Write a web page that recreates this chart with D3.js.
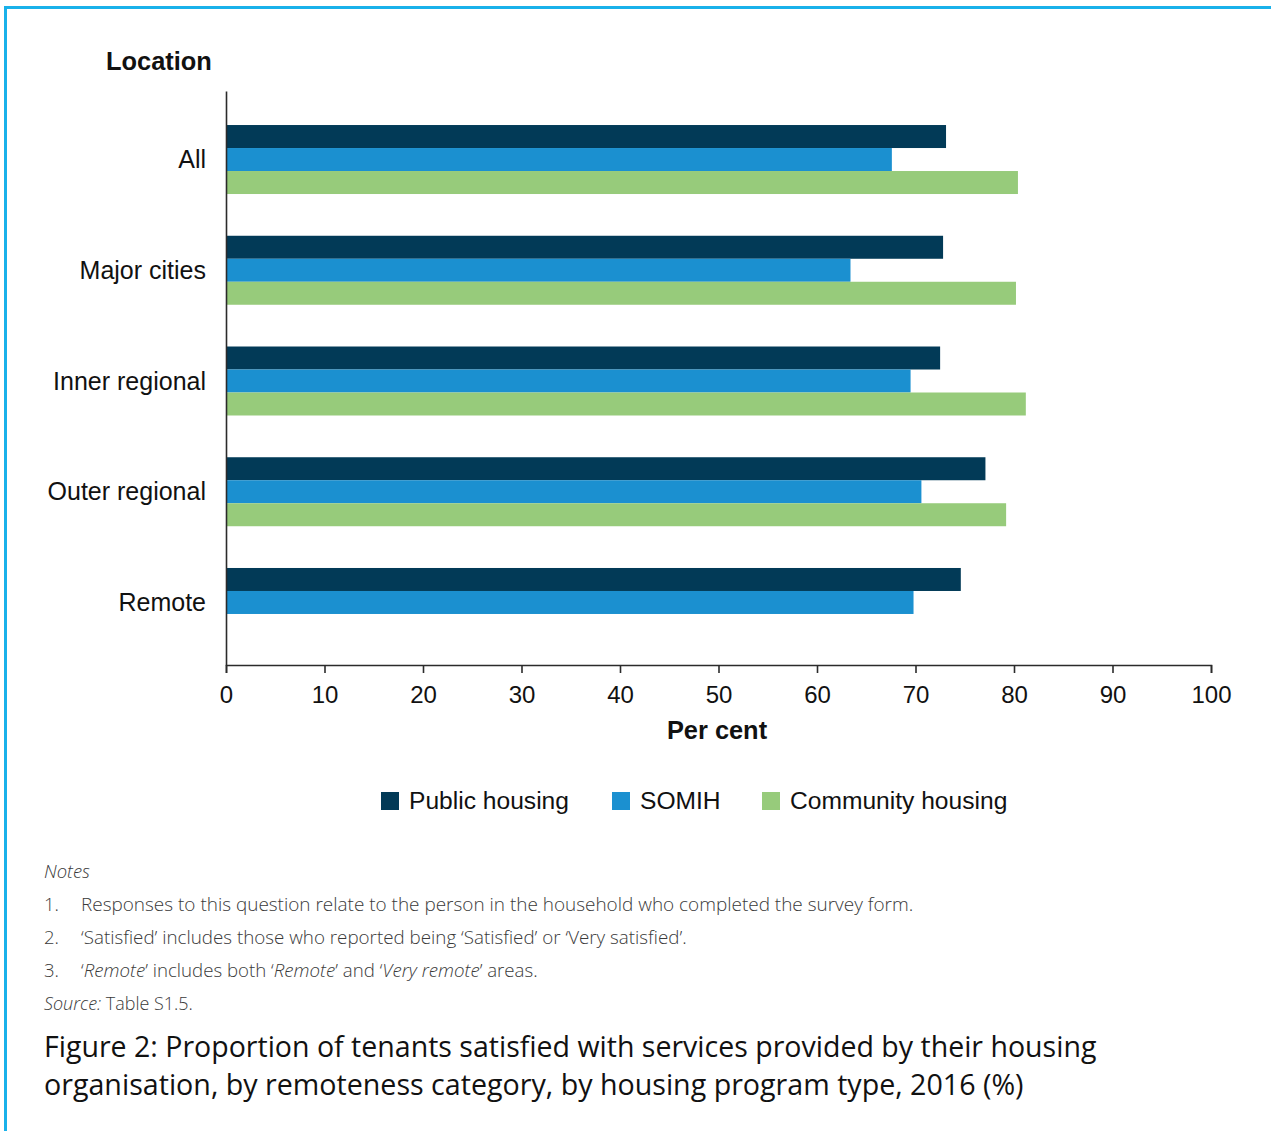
<!DOCTYPE html>
<html>
<head>
<meta charset="utf-8">
<script src="https://cdn.jsdelivr.net/npm/d3@7/dist/d3.min.js"></script>
<style>
  html, body { margin: 0; padding: 0; background: #ffffff; }
  svg { display: block; }
</style>
</head>
<body>
<svg id="chart" width="1271" height="1131"></svg>
<script>
// ---- Data ----
const categories = ["All", "Major cities", "Inner regional", "Outer regional", "Remote"];
const seriesNames = ["Public housing", "SOMIH", "Community housing"];
const publicHousing = [73.1, 72.8, 72.5, 77.1, 74.6];
const somih = [67.6, 63.4, 69.5, 70.6, 69.8];
const communityHousing = [80.4, 80.2, 81.2, 79.2, null];
const xTicks = [0, 10, 20, 30, 40, 50, 60, 70, 80, 90, 100];
const seriesColors = ["#023a57", "#1b90d0", "#97cb7b"];
const notes = [
  [{t: "Responses to this question relate to the person in the household who completed the survey form.", i: false}],
  [{t: "\u2018Satisfied\u2019 includes those who reported being \u2018Satisfied\u2019 or \u2018Very satisfied\u2019.", i: false}],
  [{t: "\u2018", i: false}, {t: "Remote", i: true}, {t: "\u2019 includes both \u2018", i: false}, {t: "Remote", i: true}, {t: "\u2019 and \u2018", i: false}, {t: "Very remote", i: true}, {t: "\u2019 areas.", i: false}]
];
const titleLines = [
  "Figure 2: Proportion of tenants satisfied with services provided by their housing",
  "organisation, by remoteness category, by housing program type, 2016 (%)"
];

const seriesValues = [publicHousing, somih, communityHousing];
const rows = categories.map((c, i) => ({
  category: c,
  values: seriesNames.map((s, j) => ({series: s, value: seriesValues[j][i], color: seriesColors[j]}))
}));

const svg = d3.select("#chart");
const sans = "'Liberation Sans', Arial, Helvetica, sans-serif";
const humanist = "'Open Sans', 'Noto Sans', sans-serif";

// Frame
svg.append("line").attr("x1", 5).attr("x2", 1271).attr("y1", 7.5).attr("y2", 7.5)
  .attr("stroke", "#19b1ea").attr("stroke-width", 3);
svg.append("line").attr("x1", 5.5).attr("x2", 5.5).attr("y1", 6).attr("y2", 1131)
  .attr("stroke", "#19b1ea").attr("stroke-width", 3);

// Scales
const x = d3.scaleLinear().domain([0, 100]).range([226, 1211]);
const y = d3.scaleBand().domain(categories).range([100, 662]).paddingInner(0.377).paddingOuter(0.226);
const ySub = d3.scaleBand().domain(seriesNames).range([0, y.bandwidth()]);

// Bars
const groups = svg.append("g").selectAll("g").data(rows).join("g")
  .attr("transform", d => `translate(0,${y(d.category)})`);
groups.selectAll("rect").data(d => d.values.filter(v => v.value != null)).join("rect")
  .attr("x", x(0))
  .attr("y", d => ySub(d.series))
  .attr("width", d => x(d.value) - x(0))
  .attr("height", ySub.bandwidth())
  .attr("fill", d => d.color);

// X axis
const xAxis = d3.axisBottom(x).tickValues(xTicks).tickSize(8).tickPadding(13).tickFormat(d3.format("d"));
const gx = svg.append("g").attr("transform", "translate(0,665)").call(xAxis);
gx.select(".domain").attr("stroke", "#2b2b2b").attr("stroke-width", 1.6);
gx.selectAll(".tick line").attr("stroke", "#2b2b2b").attr("stroke-width", 1.6);
gx.selectAll(".tick text").attr("font-family", sans).attr("font-size", 24).attr("fill", "#111");

// Y axis line (no ticks)
const yAxis = d3.axisLeft(d3.scaleLinear().domain([0,1]).range([665, 91])).tickValues([]).tickSizeOuter(0);
const gy = svg.append("g").attr("transform", `translate(${x(0)},0)`).call(yAxis);
gy.select(".domain").attr("stroke", "#2b2b2b").attr("stroke-width", 1.6);

// Category labels
svg.append("g").selectAll("text").data(categories).join("text")
  .attr("x", 206)
  .attr("y", d => y(d) + y.bandwidth() / 2 + 8.5)
  .attr("text-anchor", "end")
  .attr("font-family", sans).attr("font-size", 25).attr("fill", "#111")
  .text(d => d);

// Axis titles
svg.append("text").attr("x", 159).attr("y", 70).attr("text-anchor", "middle")
  .attr("font-family", sans).attr("font-size", 25.4).attr("font-weight", "bold").attr("fill", "#111")
  .text("Location");
svg.append("text").attr("x", 717).attr("y", 739).attr("text-anchor", "middle")
  .attr("font-family", sans).attr("font-size", 25.4).attr("font-weight", "bold").attr("fill", "#111")
  .text("Per cent");

// Legend
const legendX = [381, 612, 762];
const legend = svg.append("g").selectAll("g").data(seriesNames).join("g")
  .attr("transform", (d, i) => `translate(${legendX[i]},792)`);
legend.append("rect").attr("width", 18).attr("height", 18).attr("fill", (d, i) => seriesColors[i]);
legend.append("text").attr("x", 28).attr("y", 17).attr("font-family", sans).attr("font-size", 24.6)
  .attr("fill", "#111").text(d => d);

// Helper: text fitted to a target width with horizontal scaling
function fitted(parentSel, xPos, yPos, parts, size, color, targetWidth, weight) {
  const g = parentSel.append("g");
  const t = g.append("text").attr("x", 0).attr("y", 0)
    .attr("font-family", humanist).attr("font-size", size).attr("fill", color)
    .attr("font-weight", weight || 400);
  parts.forEach(p => t.append("tspan").attr("font-style", p.i ? "italic" : "normal").text(p.t));
  let sx = 1;
  if (targetWidth) {
    const w = t.node().getComputedTextLength();
    if (w > 0) sx = targetWidth / w;
  }
  g.attr("transform", `translate(${xPos},${yPos}) scale(${sx},1)`);
  return g;
}

const noteColor = "#3a3a3a";
fitted(svg, 44, 878, [{t: "Notes", i: true}], 18, noteColor, 46, 300);
const noteTargets = [833, 606, 457];
const noteY = [911, 944, 977];
notes.forEach((parts, i) => {
  fitted(svg, 44, noteY[i], [{t: (i + 1) + ".", i: false}], 18, noteColor, 15, 300);
  fitted(svg, 81, noteY[i], parts, 18, noteColor, noteTargets[i], 300);
});
fitted(svg, 44, 1010, [{t: "Source:", i: true}, {t: " Table S1.5.", i: false}], 18, noteColor, 149, 300);

// Title
fitted(svg, 44, 1057, [{t: titleLines[0], i: false}], 30, "#111", 1053, 400);
fitted(svg, 44, 1095, [{t: titleLines[1], i: false}], 30, "#111", 980, 400);
</script>
</body>
</html>
